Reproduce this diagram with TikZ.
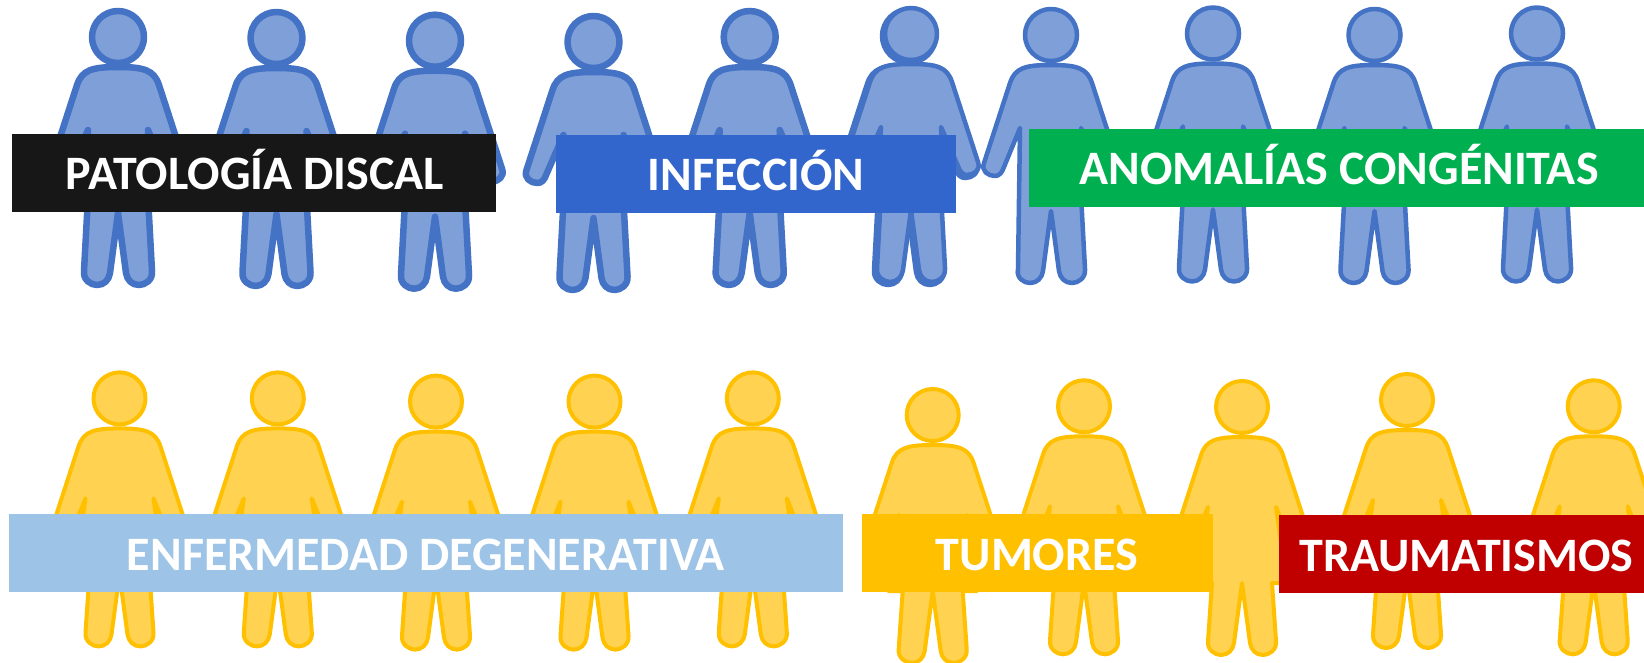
\documentclass[tikz,border=0pt]{standalone}
\usepackage{fontspec}
\setmainfont{Carlito}
\definecolor{blueline}{HTML}{4472C4}
\definecolor{bluefill}{HTML}{7F9FD8}
\definecolor{yelline}{HTML}{FFC000}
\definecolor{yelfill}{HTML}{FFD351}
\definecolor{bandblack}{HTML}{171717}
\definecolor{bandblue}{HTML}{3366CC}
\definecolor{bandgreen}{HTML}{00B050}
\definecolor{bandsky}{HTML}{9DC3E6}
\definecolor{bandgold}{HTML}{FFC000}
\definecolor{bandred}{HTML}{C00000}
% \tipx,\tipy: armpit; \hemx: half width of the hem; \hema,\hemb: side and bottom of the hem
\newcommand\siderightpath{(0,30) .. controls (26,30) and (36,33) .. (41,48) -- (67,128)
  .. controls (70,136) and (63,141) .. (56,141) .. controls (52,141) and (49,138) .. (47,132)
  -- (\tipx,\tipy) -- (\hemx,\hema) -- (\hemx,\hemb) -- (30,\hemb) -- (34,234)
  .. controls (35,243) and (27,248) .. (21,248) .. controls (14,248) and (9,243) .. (8,236) -- (0,176)}
\newcommand\sideleftdress{-- (-8,236) .. controls (-9,243) and (-14,248) .. (-21,248)
  .. controls (-27,248) and (-35,243) .. (-34,234) -- (-30,\hemb) -- (-\hemx,\hemb)
  -- (-\hemx,\hema) -- (-\tipx,\tipy) -- (-47,132)
  .. controls (-49,138) and (-52,141) .. (-56,141) .. controls (-63,141) and (-70,136) .. (-67,128)
  -- (-41,48) .. controls (-36,33) and (-26,30) .. (0,30) -- cycle}
\newcommand\sideleftplain{-- (-8,236) .. controls (-9,243) and (-14,248) .. (-21,248)
  .. controls (-27,248) and (-35,243) .. (-33,234) -- (-31,\tipy) -- (-47,132)
  .. controls (-49,138) and (-52,141) .. (-56,141) .. controls (-63,141) and (-70,136) .. (-67,128)
  -- (-41,48) .. controls (-36,33) and (-26,30) .. (0,30) -- cycle}
% #1 x, #2 y of the head, #3 style
\newcommand\figperson[3]{\begin{scope}[shift={(#1,#2)},#3]
  \filldraw \siderightpath \sideleftdress;
  \filldraw (0,0) circle[radius=26];
\end{scope}}
\newcommand\figpersonplain[3]{\begin{scope}[shift={(#1,#2)},#3]
  \filldraw \siderightpath \sideleftplain;
  \filldraw (0,0) circle[radius=26];
\end{scope}}
\newcommand\useblueshape{\def\tipx{30}\def\tipy{93}\def\hemx{33}\def\hema{152}\def\hemb{160}}
\newcommand\useyellowshape{\def\tipx{34}\def\tipy{100}\def\hemx{44}\def\hema{172}\def\hemb{176}}
\tikzset{
  bluethick/.style={draw=blueline,fill=bluefill,line width=6.5pt,line join=round},
  bluethin/.style={draw=blueline,fill=bluefill,line width=4.5pt,line join=round},
  yelfig/.style={draw=yelline,fill=yelfill,line width=4pt,line join=round},
  bandbox/.style={anchor=north west,inner sep=0pt,outer sep=0pt,draw=none},
  bandtext/.style={text=white,font=\fontsize{48}{48}\selectfont\bfseries,inner sep=0pt,anchor=center}
}
\begin{document}
\begin{tikzpicture}[x=1pt,y=-1pt]
\useasboundingbox (0,0) rectangle (1644,662);
\clip (0,0) rectangle (1644,662);
\fill[white] (0,0) rectangle (1644,662);
% upper row
\useblueshape
\figperson{118}{37}{bluethick}
\figperson{276.5}{38}{bluethick}
\figperson{435}{40.7}{bluethick}
\figperson{593.5}{42}{bluethick}
\figperson{749.7}{37}{bluethick}
\figperson{909}{36}{bluethick}
\figperson{911}{34}{bluethin}
\figpersonplain{1051}{35}{bluethin}
\figperson{1213}{33.5}{bluethin}
\figperson{1374.5}{35}{bluethin}
\figperson{1537}{33.5}{bluethin}
% lower row
\useyellowshape
\figperson{119.5}{398.4}{yelfig}
\figperson{277.8}{398.4}{yelfig}
\figperson{436}{401.6}{yelfig}
\figperson{594.5}{401.6}{yelfig}
\figperson{752.8}{398.4}{yelfig}
\figperson{932.7}{415}{yelfig}
\figperson{1084}{406.3}{yelfig}
\figperson{1242}{407}{yelfig}
\figperson{1407}{400}{yelfig}
\figperson{1593.7}{406.3}{yelfig}
% bands
\node[bandbox,fill=bandblack,minimum width=484pt,minimum height=78pt] (discal) at (12,134) {};
\node[bandbox,fill=bandblue,minimum width=400pt,minimum height=78pt] (infec) at (556,135) {};
\node[bandbox,fill=bandgreen,minimum width=615pt,minimum height=78pt] (congen) at (1029,129) {};
\node[bandbox,fill=bandsky,minimum width=834pt,minimum height=78pt] (degen) at (9,514) {};
\node[bandbox,fill=bandgold,minimum width=351pt,minimum height=78pt] (tumor) at (862,514) {};
\node[bandbox,fill=bandred,minimum width=365pt,minimum height=78pt] (traum) at (1279,515) {};
% labels
\node[bandtext] (tdiscal) at (255,170) {PATOLOGÍA DISCAL};
\node[bandtext] (tinfec) at (756,171) {INFECCIÓN};
\node[bandtext] (tcongen) at (1339,165) {ANOMALÍAS CONGÉNITAS};
\node[bandtext] (tdegen) at (426,555) {ENFERMEDAD DEGENERATIVA};
\node[bandtext] (ttumor) at (1037,555) {TUMORES};
\node[bandtext] (ttraum) at (1466.5,556) {TRAUMATISMOS};
\end{tikzpicture}
\end{document}
